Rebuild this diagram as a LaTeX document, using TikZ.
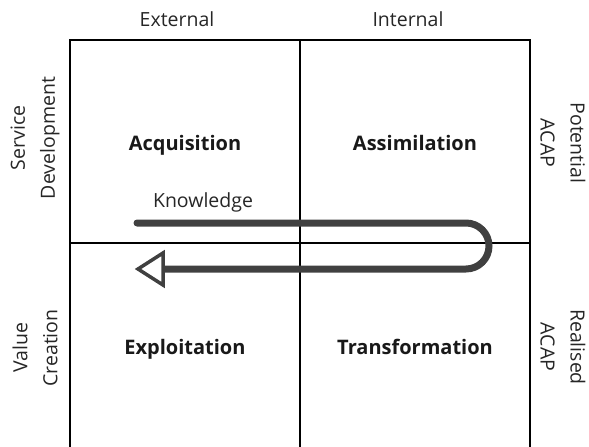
\documentclass[tikz,border=0pt]{standalone}
\usepackage{fontspec}
\setmainfont{Open Sans}
\usetikzlibrary{calc}
\begin{document}
\begin{tikzpicture}[x=1pt,y=-1pt,
  gridline/.style={line width=1.6pt,black},
  quad/.style={font=\fontsize{20}{24}\selectfont\bfseries,text=black!90,anchor=base},
  axis/.style={font=\fontsize{19.5}{30}\selectfont,text=black!85,align=center,inner sep=0pt},
  flow/.style={line width=7pt,draw=black!75},
  headtri/.style={line width=3.5pt,draw=black!75,fill=white,line join=miter}]
\useasboundingbox (0,0) rectangle (589,447);
% quadrant grid
\coordinate (tl) at (70,40);
\coordinate (tm) at (300,40);
\coordinate (tr) at (530,40);
\coordinate (bl) at (70,447);
\coordinate (bm) at (300,447);
\coordinate (br) at (530,447);
\coordinate (ml) at (70,243);
\coordinate (mr) at (530,243);
\draw[gridline] (bl) -- (tl) -- (tr) -- (br);
\draw[gridline] (tm) -- (bm);
\draw[gridline] (ml) -- (mr);
% column headings
\node[axis] (ext) at (177,19) {External};
\node[axis] (int) at (408,19) {Internal};
% row headings
\node[axis,rotate=90] (svc) at (35,138) {Service\\Development};
\node[axis,rotate=90] (val) at (35,348) {Value\\Creation};
\node[axis,rotate=-90] (pot) at (563,143) {Potential\\ACAP};
\node[axis,rotate=-90] (rea) at (563,347) {Realised\\ACAP};
% quadrant titles
\node[quad] (acq) at (185,150) {Acquisition};
\node[quad] (ass) at (415,150) {Assimilation};
\node[quad] (exp) at (185,354) {Exploitation};
\node[quad] (tra) at (415,354) {Transformation};
% knowledge loop
\node[axis] (kn) at (203,202) {Knowledge};
\coordinate (ks) at (137,223);
\coordinate (kt) at (466,223);
\coordinate (kb) at (466,269);
\coordinate (ke) at (163,269);
\coordinate (tip) at (138,269);
\draw[flow,line cap=round] (ks) -- (kt) arc[start angle=-90,end angle=90,radius=23] -- (ke);
\draw[headtri] (tip) -- ($(ke)+(0,-16)$) -- ($(ke)+(0,16)$) -- cycle;
\end{tikzpicture}
\end{document}
